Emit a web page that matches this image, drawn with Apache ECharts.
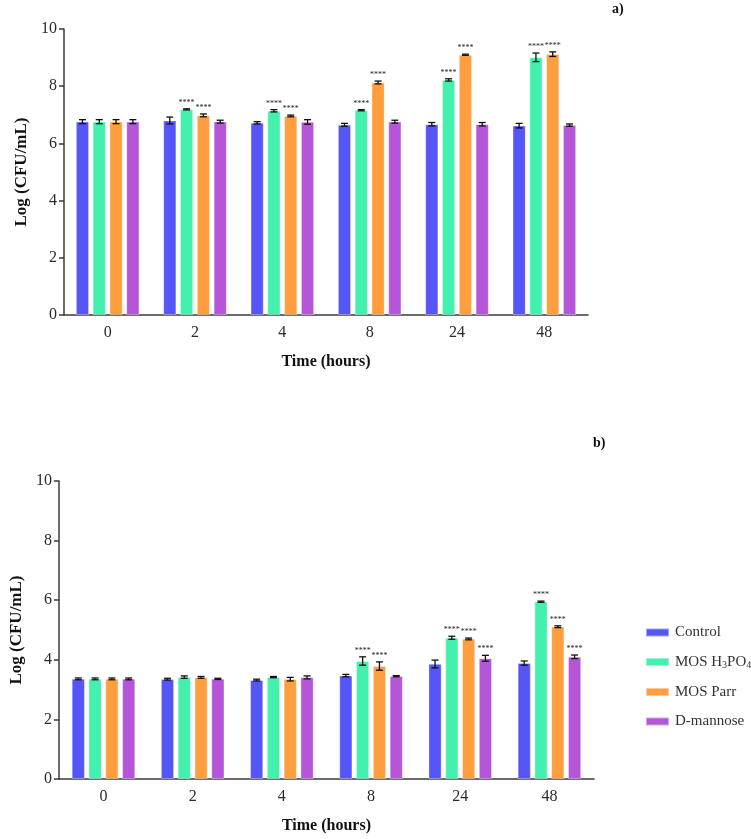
<!DOCTYPE html>
<html>
<head>
<meta charset="utf-8">
<script src="https://cdn.jsdelivr.net/npm/echarts@6/dist/echarts.min.js"></script>
<style>html,body{margin:0;padding:0;background:#fff;}#c{width:751px;height:839px;}</style>
</head>
<body>
<div id="c"></div>
<script>
const hours = ['0', '2', '4', '8', '24', '48'];
const seriesNames = ['Control', 'MOS H3PO4', 'MOS Parr', 'D-mannose'];
const colors = ['#5656F6', '#44F0AE', '#FE9E3F', '#B556D8'];

// panel a)
const aControl = [6.76, 6.80, 6.72, 6.65, 6.67, 6.62];
const aControlErr = [0.07, 0.12, 0.04, 0.05, 0.06, 0.08];
const aH3PO4 = [6.76, 7.19, 7.14, 7.16, 8.22, 9.01];
const aH3PO4Err = [0.07, 0.02, 0.04, 0.02, 0.04, 0.15];
const aParr = [6.76, 6.98, 6.96, 8.13, 9.10, 9.12];
const aParrErr = [0.07, 0.05, 0.03, 0.05, 0.02, 0.08];
const aMannose = [6.76, 6.76, 6.75, 6.76, 6.67, 6.64];
const aMannoseErr = [0.07, 0.05, 0.08, 0.05, 0.06, 0.04];
const aSigControl = [0, 0, 0, 0, 0, 0];
const aSigH3PO4 = [0, 1, 1, 1, 1, 1];
const aSigParr = [0, 1, 1, 1, 1, 1];
const aSigMannose = [0, 0, 0, 0, 0, 0];

// panel b)
const bControl = [3.36, 3.35, 3.32, 3.47, 3.86, 3.89];
const bControlErr = [0.03, 0.03, 0.03, 0.04, 0.13, 0.07];
const bH3PO4 = [3.36, 3.42, 3.42, 3.96, 4.74, 5.95];
const bH3PO4Err = [0.03, 0.04, 0.02, 0.14, 0.05, 0.02];
const bParr = [3.36, 3.41, 3.35, 3.79, 4.70, 5.11];
const bParrErr = [0.03, 0.03, 0.06, 0.14, 0.03, 0.03];
const bMannose = [3.36, 3.36, 3.41, 3.45, 4.05, 4.10];
const bMannoseErr = [0.03, 0.02, 0.05, 0.02, 0.10, 0.06];
const bSigControl = [0, 0, 0, 0, 0, 0];
const bSigH3PO4 = [0, 0, 0, 1, 1, 1];
const bSigParr = [0, 0, 0, 1, 1, 1];
const bSigMannose = [0, 0, 0, 0, 1, 1];

const yTicks = [0, 2, 4, 6, 8, 10];

const BAR_W = 13;
const BAR_GAP = 3.8;
const FONT = '"Liberation Serif", "Times New Roman", serif';

const panels = [
  {vals: [aControl, aH3PO4, aParr, aMannose], errs: [aControlErr, aH3PO4Err, aParrErr, aMannoseErr], sig: [aSigControl, aSigH3PO4, aSigParr, aSigMannose]},
  {vals: [bControl, bH3PO4, bParr, bMannose], errs: [bControlErr, bH3PO4Err, bParrErr, bMannoseErr], sig: [bSigControl, bSigH3PO4, bSigParr, bSigMannose]}
];

const axisLineStyle = {color: '#3a3a3a', width: 1.5};

function makeX(gi) {
  return {
    type: 'category', gridIndex: gi, data: hours,
    name: 'Time (hours)', nameLocation: 'middle', nameGap: 39,
    nameTextStyle: {fontFamily: FONT, fontWeight: 'bold', fontSize: 16, color: '#111'},
    axisLine: {lineStyle: axisLineStyle},
    axisTick: {alignWithLabel: true, length: 5, lineStyle: axisLineStyle},
    axisLabel: {fontFamily: FONT, fontSize: 16, color: '#2a2a2a', margin: 10}
  };
}
function makeY(gi) {
  return {
    type: 'value', gridIndex: gi, min: 0, max: 10, interval: 2,
    name: 'Log (CFU/mL)', nameLocation: 'middle', nameGap: 31,
    nameTextStyle: {fontFamily: FONT, fontWeight: 'bold', fontSize: 17, color: '#111'},
    axisLine: {show: true, lineStyle: axisLineStyle},
    axisTick: {show: true, length: 5, lineStyle: axisLineStyle},
    splitLine: {show: false},
    axisLabel: {fontFamily: FONT, fontSize: 16, color: '#2a2a2a', margin: 7,
      formatter: v => yTicks.includes(v) ? String(v) : ''}
  };
}

const series = [];
panels.forEach((p, gi) => {
  p.vals.forEach((vals, si) => {
    series.push({
      type: 'bar', name: seriesNames[si], xAxisIndex: gi, yAxisIndex: gi,
      data: vals, barWidth: BAR_W, barGap: (BAR_GAP / BAR_W * 100) + '%',
      itemStyle: {color: colors[si], borderColor: 'rgba(255,255,255,0.45)', borderWidth: 0.8},
      emphasis: {disabled: true}, z: 2
    });
  });
  p.vals.forEach((vals, si) => {
    const offset = (si - 1.5) * (BAR_W + BAR_GAP);
    series.push({
      type: 'custom', xAxisIndex: gi, yAxisIndex: gi, z: 5, silent: true,
      data: vals.map((v, i) => [i, v, p.errs[si][i], p.sig[si][i]]),
      renderItem: function (params, api) {
        const x = api.value(0), y = api.value(1), e = api.value(2), s = api.value(3);
        const hi = api.coord([x, y + e]);
        const lo = api.coord([x, y - e]);
        const cx = hi[0] + offset;
        const cw = 3.5;
        const st = {stroke: '#111', lineWidth: 1.3};
        const children = [
          {type: 'line', shape: {x1: cx, y1: hi[1], x2: cx, y2: lo[1]}, style: st},
          {type: 'line', shape: {x1: cx - cw, y1: hi[1], x2: cx + cw, y2: hi[1]}, style: st},
          {type: 'line', shape: {x1: cx - cw, y1: lo[1], x2: cx + cw, y2: lo[1]}, style: st}
        ];
        if (s) {
          children.push({type: 'text', style: {text: '****', x: cx, y: hi[1] - 2,
            align: 'center', verticalAlign: 'bottom', fontSize: 8, fontFamily: FONT, fill: '#222'}});
        }
        return {type: 'group', children: children};
      }
    });
  });
});

const chart = echarts.init(document.getElementById('c'), null, {renderer: 'canvas'});
chart.setOption({
  backgroundColor: '#fff',
  animation: false,
  grid: [
    {left: 64, width: 524, top: 29, height: 286},
    {left: 46, width: 548, top: 481, height: 298}
  ],
  xAxis: [makeX(0), makeX(1)],
  yAxis: [makeY(0), makeY(1)],
  legend: {
    data: seriesNames, orient: 'vertical', left: 640, top: 620,
    itemWidth: 23, itemHeight: 8, itemGap: 14.5,
    icon: 'rect',
    textStyle: {fontFamily: FONT, fontSize: 15, color: '#333', padding: [0, 0, 0, 1],
      rich: {
        n: {fontFamily: FONT, fontSize: 15, color: '#333'},
        s: {fontFamily: FONT, fontSize: 10, color: '#333', padding: [6, 0, 0, 0]}
      }},
    formatter: function (name) {
      if (name === 'MOS H3PO4') return '{n|MOS H}{s|3}{n|PO}{s|4}';
      return name;
    },
    selectedMode: false
  },
  graphic: [
    {type: 'text', left: 612, top: 2, style: {text: 'a)', fontFamily: FONT, fontWeight: 'bold', fontSize: 14, fill: '#111'}},
    {type: 'text', left: 593, top: 436, style: {text: 'b)', fontFamily: FONT, fontWeight: 'bold', fontSize: 14, fill: '#111'}}
  ],
  series: series
});
</script>
</body>
</html>
